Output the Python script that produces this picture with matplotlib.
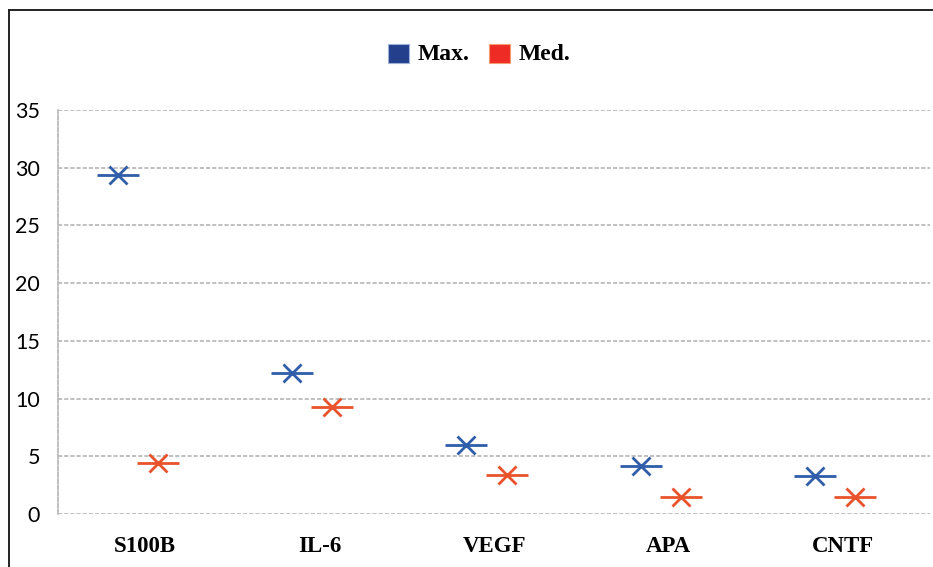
"""
Max. / Med. 値の比較チャート（マーカーのみ）
"""

import matplotlib
matplotlib.use('Agg')
import matplotlib.pyplot as plt
from matplotlib.lines import Line2D
from matplotlib.patches import Rectangle

# データ
categories = ['S100B', 'IL-6', 'VEGF', 'APA', 'CNTF']
max_values = [29.4, 12.2, 6.0, 4.2, 3.3]
med_values = [4.4, 9.3, 3.4, 1.5, 1.5]
y_ticks = [0, 5, 10, 15, 20, 25, 30, 35]

# 色
BLUE = '#2F5DA9'
ORANGE = '#E8532B'
LEGEND_BLUE = '#243F8C'
LEGEND_RED = '#EE2B25'
GRID = '#B5B5B5'

W, H = 933, 567
DPI = 100

fig = plt.figure(figsize=(W / DPI, H / DPI), dpi=DPI)
ax = fig.add_axes([58 / W, (H - 514) / H, (930 - 58) / W, (514 - 110) / H])

x = list(range(len(categories)))
x_max = [i - 0.158 for i in x]
x_med = [i + 0.072 for i in x]

# マーカー: 横線 + x
for xs, vals, color in [(x_max, max_values, BLUE), (x_med, med_values, ORANGE)]:
    ax.plot(xs, vals, linestyle='none', marker='_', markersize=30,
            markeredgewidth=2.0, color=color, zorder=5)
    ax.plot(xs, vals, linestyle='none', marker='x', markersize=12.5,
            markeredgewidth=2.0, color=color, zorder=5)

ax.set_xlim(-0.5, len(categories) - 0.5)
ax.set_ylim(0, 35)
ax.set_yticks(y_ticks)
ax.set_xticks(x)
ax.set_xticklabels(categories, fontfamily='Liberation Serif',
                   fontweight='bold', fontsize=16.5)
ax.set_yticklabels([str(v) for v in y_ticks], fontfamily='Lato', fontsize=15.5)
ax.tick_params(axis='both', length=0)
ax.tick_params(axis='y', pad=13)
ax.tick_params(axis='x', pad=16)

# グリッド
ax.grid(axis='y', color=GRID, linestyle=(0, (2.5, 1.2)), linewidth=1.2)
for side in ['top', 'right', 'bottom']:
    ax.spines[side].set_visible(False)
ax.spines['left'].set_color(GRID)
ax.spines['left'].set_linestyle((0, (2.5, 1.2)))
ax.spines['left'].set_linewidth(1.2)
ax.set_axisbelow(True)

# 凡例（手動配置）
for (x0, label, color) in [(388, 'Max.', LEGEND_BLUE), (489, 'Med.', LEGEND_RED)]:
    fig.add_artist(Rectangle((x0 / W, (H - 63) / H), 21 / W, 19 / H,
                             transform=fig.transFigure, facecolor=color,
                             edgecolor='#9DB0D8' if color == LEGEND_BLUE else '#F29A70',
                             linewidth=0.8))
    fig.text((x0 + 30) / W, (H - 55) / H, label, fontfamily='Liberation Serif',
             fontweight='bold', fontsize=17, va='center', ha='left')

# 外枠
fig.add_artist(Line2D([8.5 / W, 8.5 / W], [0, (H - 10) / H], color='#222222',
                      linewidth=1.4, transform=fig.transFigure))
fig.add_artist(Line2D([8.5 / W, 1], [(H - 10) / H, (H - 10) / H], color='#222222',
                      linewidth=1.4, transform=fig.transFigure))

fig.savefig('out.png', dpi=DPI)
plt.close(fig)
